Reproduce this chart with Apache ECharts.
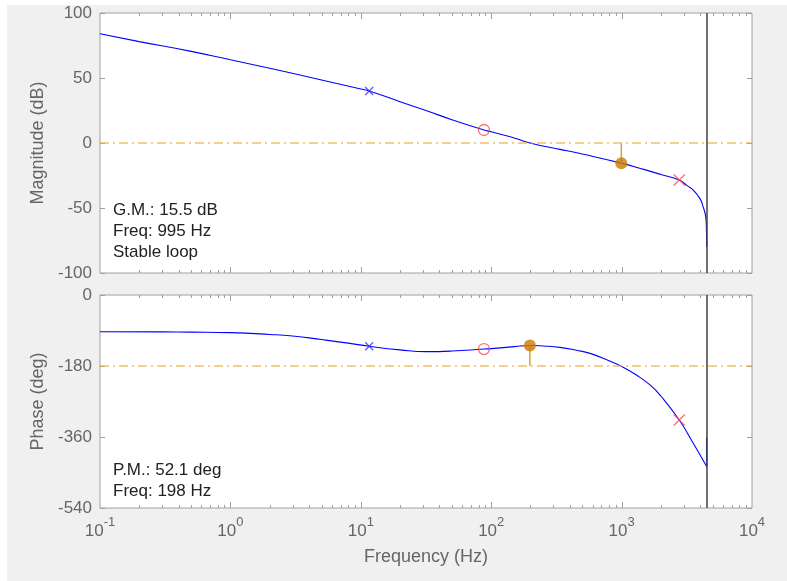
<!DOCTYPE html>
<html>
<head>
<meta charset="utf-8">
<script src="https://cdn.jsdelivr.net/npm/echarts@6/dist/echarts.min.js"></script>
<style>
  html, body { margin: 0; padding: 0; background: #ffffff; }
  #panel { position: absolute; left: 7px; top: 5px; width: 780px; height: 576px; background: #f0f0f0; }
  #chart { position: absolute; left: 0; top: 0; width: 787px; height: 581px; }
</style>
</head>
<body>
<div id="panel"></div>
<div id="chart"></div>
<script>
// Open-loop Bode response (magnitude and phase) with margin annotations
const magFreq = [0.1, 0.2, 0.5, 1, 2, 5, 10, 11.6, 20, 32, 50, 88, 100, 140, 198, 260, 337, 500, 995, 1500, 2000, 2767, 3200, 3545, 4000, 4200, 4415, 4470, 4490];
const magDb   = [84, 78, 70.5, 64, 57.5, 48.5, 41.5, 40, 31.8, 24.8, 17.9, 10, 8.6, 4.8, 0, -2.7, -4.9, -8.5, -15.5, -20.5, -24.2, -28.5, -33, -36.2, -43, -48.5, -56.7, -65, -80];

const phaseFreq = [0.1, 0.3, 0.5, 1, 2, 3, 5, 8, 11.6, 20, 32, 50, 88, 100, 150, 198, 250, 337, 450, 573, 800, 1000, 1300, 1652, 2000, 2767, 3545, 4490];
const phaseDeg  = [-93, -93.5, -94, -95.5, -100, -104, -113, -122, -130, -139, -143.5, -142, -137, -136, -131, -128, -129.3, -132.7, -140, -148, -166.5, -181, -203, -228, -256, -317, -376, -435];
const phaseWrapDeg = -361;   // phase value after the wrap at the Nyquist edge

// Compensator pole/zero markers
const integratorFreq = 11.6, integratorMag = 40, integratorPhase = -130;
const zeroFreq = 88,  zeroMag = 10,  zeroPhase = -137;
const poleFreq = 2767, poleMag = -28.5, polePhase = -317;

// Stability margins
const GM_DB = 15.5, GM_FREQ = 995;
const PM_DEG = 52.1, PM_FREQ = 198;
const NYQUIST_HZ = 4500;

// Axis ticks
const magTicks = [-100, -50, 0, 50, 100];
const phaseTicks = [-540, -360, -180, 0];
const freqDecades = [0.1, 1, 10, 100, 1000, 10000];
const minorSteps = [2, 3, 4, 5, 6, 7, 8, 9];

const FONT = '"Liberation Sans", Arial, Helvetica, sans-serif';
const AXIS_GREY = '#a0a0a0';
const LABEL_GREY = '#666666';
const BLUE = '#0000ff';
const RED = '#ff4a4a';
const MARGIN_LINE = 'rgba(236,170,60,0.75)';
const MARGIN_DOT = '#cc7a00';
const MARGIN_STEM = '#dfa040';

const pair = (xs, ys) => xs.map((x, i) => [x, ys[i]]);

// frequency tick positions (major decades + minor 2..9 multiples)
const freqTickData = [];
freqDecades.slice(1, -1).forEach(d => freqTickData.push([d, 1]));
freqDecades.slice(0, -1).forEach(d => minorSteps.forEach(m => freqTickData.push([d * m, 0])));

function tickRender(params, api) {
  const cs = params.coordSys;
  const p = api.coord([api.value(0), 0]);
  const x = Math.round(p[0]) + 0.5;
  const len = api.value(1) ? 6 : 3;
  const bottom = cs.y + cs.height, top = cs.y;
  const style = { stroke: AXIS_GREY, lineWidth: 1 };
  return {
    type: 'group',
    children: [
      { type: 'line', shape: { x1: x, y1: bottom, x2: x, y2: bottom - len }, style },
      { type: 'line', shape: { x1: x, y1: top, x2: x, y2: top + len }, style }
    ]
  };
}

const xSymbol = 'path://M0,0L10,10M10,0L0,10';

function freqAxis(gridIndex, withLabels) {
  return {
    type: 'log', logBase: 10, gridIndex,
    min: freqDecades[0], max: freqDecades[freqDecades.length - 1],
    axisLine: { show: false },
    axisTick: { show: false },
    splitLine: { show: false },
    axisLabel: withLabels ? {
      show: true, margin: 8,
      formatter: v => '{b|10}{s|' + Math.round(Math.log10(v)) + '}',
      rich: {
        b: { fontSize: 17, fontFamily: FONT, color: LABEL_GREY, lineHeight: 30 },
        s: { fontSize: 13, fontFamily: FONT, color: LABEL_GREY, lineHeight: 12, verticalAlign: 'top' }
      }
    } : { show: false },
    name: withLabels ? 'Frequency (Hz)' : '',
    nameLocation: 'middle', nameGap: 40,
    nameTextStyle: { fontSize: 18, fontFamily: FONT, color: LABEL_GREY }
  };
}

function valueAxis(gridIndex, ticks, name, right) {
  return {
    type: 'value', gridIndex,
    min: ticks[0], max: ticks[ticks.length - 1], interval: ticks[1] - ticks[0],
    position: right ? 'right' : 'left',
    axisLine: { show: false },
    axisTick: { show: true, inside: true, length: 5, lineStyle: { color: AXIS_GREY } },
    splitLine: { show: false },
    axisLabel: right ? { show: false } : { show: true, margin: 8, fontSize: 17, fontFamily: FONT, color: LABEL_GREY },
    name: right ? '' : name,
    nameLocation: 'middle', nameGap: 50,
    nameTextStyle: { fontSize: 18, fontFamily: FONT, color: LABEL_GREY }
  };
}

function marginLine(value) {
  return {
    silent: true, symbol: 'none', animation: false,
    label: { show: false },
    data: [{ yAxis: value, lineStyle: { color: MARGIN_LINE, width: 1.5, type: [9, 4, 2, 4] } },
           { xAxis: NYQUIST_HZ, lineStyle: { color: '#404040', width: 1.5, type: 'solid' } }]
  };
}

function markers(xi, yi, pts) {
  return [
    { type: 'scatter', xAxisIndex: xi, yAxisIndex: yi, symbol: xSymbol, symbolSize: 8, z: 5,
      itemStyle: { color: 'none', borderColor: '#3030ff', borderWidth: 1.2 }, data: [pts.integrator] },
    { type: 'scatter', xAxisIndex: xi, yAxisIndex: yi, symbol: 'circle', symbolSize: 11, z: 5,
      itemStyle: { color: 'rgba(0,0,0,0)', borderColor: RED, borderWidth: 1.3 }, data: [pts.zero] },
    { type: 'scatter', xAxisIndex: xi, yAxisIndex: yi, symbol: xSymbol, symbolSize: 11, z: 5,
      itemStyle: { color: 'none', borderColor: RED, borderWidth: 1.3 }, data: [pts.pole] }
  ];
}

const chart = echarts.init(document.getElementById('chart'), null, { renderer: 'canvas' });

const txt = (x, y, s) => ({
  type: 'text', x, y, z: 50,
  style: { text: s, font: '17px ' + FONT, fill: '#222222', verticalAlign: 'middle', align: 'left' }
});

chart.setOption({
  animation: false,
  backgroundColor: 'transparent',
  grid: [
    { left: 100, top: 13, width: 652, height: 260, show: true, backgroundColor: '#ffffff', borderColor: AXIS_GREY, borderWidth: 1 },
    { left: 100, top: 295, width: 652, height: 213, show: true, backgroundColor: '#ffffff', borderColor: AXIS_GREY, borderWidth: 1 }
  ],
  xAxis: [freqAxis(0, false), freqAxis(1, true)],
  yAxis: [
    valueAxis(0, magTicks, 'Magnitude (dB)', false),
    valueAxis(1, phaseTicks, 'Phase (deg)', false),
    valueAxis(0, magTicks, '', true),
    valueAxis(1, phaseTicks, '', true)
  ],
  graphic: [
    txt(113, 210, 'G.M.: ' + GM_DB + ' dB'),
    txt(113, 231, 'Freq: ' + GM_FREQ + ' Hz'),
    txt(113, 252, 'Stable loop'),
    txt(113, 470, 'P.M.: ' + PM_DEG + ' deg'),
    txt(113, 491, 'Freq: ' + PM_FREQ + ' Hz')
  ],
  series: [
    { type: 'custom', xAxisIndex: 0, yAxisIndex: 0, renderItem: tickRender, data: freqTickData, silent: true, z: 1 },
    { type: 'custom', xAxisIndex: 1, yAxisIndex: 1, renderItem: tickRender, data: freqTickData, silent: true, z: 1 },

    // magnitude
    { type: 'line', xAxisIndex: 0, yAxisIndex: 0, data: pair(magFreq, magDb), smooth: 0.5,
      showSymbol: false, lineStyle: { color: BLUE, width: 1.1 }, z: 3, markLine: marginLine(0) },
    { type: 'line', xAxisIndex: 0, yAxisIndex: 0, data: [[GM_FREQ, 0], [GM_FREQ, -GM_DB]],
      showSymbol: false, lineStyle: { color: MARGIN_STEM, width: 1.5 }, z: 4 },
    { type: 'scatter', xAxisIndex: 0, yAxisIndex: 0, data: [[GM_FREQ, -GM_DB]], symbolSize: 12,
      itemStyle: { color: MARGIN_DOT }, z: 6 },
    ...markers(0, 0, { integrator: [integratorFreq, integratorMag], zero: [zeroFreq, zeroMag], pole: [poleFreq, poleMag] }),

    // phase
    { type: 'line', xAxisIndex: 1, yAxisIndex: 1, data: pair(phaseFreq, phaseDeg), smooth: 0.5,
      showSymbol: false, lineStyle: { color: BLUE, width: 1.1 }, z: 3, markLine: marginLine(-180) },
    { type: 'line', xAxisIndex: 1, yAxisIndex: 1,
      data: [[phaseFreq[phaseFreq.length - 1], phaseDeg[phaseDeg.length - 1]], [phaseFreq[phaseFreq.length - 1], phaseWrapDeg]],
      showSymbol: false, lineStyle: { color: BLUE, width: 1.1 }, z: 3 },
    { type: 'line', xAxisIndex: 1, yAxisIndex: 1, data: [[PM_FREQ, -180], [PM_FREQ, -180 + PM_DEG]],
      showSymbol: false, lineStyle: { color: MARGIN_STEM, width: 1.5 }, z: 4 },
    { type: 'scatter', xAxisIndex: 1, yAxisIndex: 1, data: [[PM_FREQ, -180 + PM_DEG]], symbolSize: 12,
      itemStyle: { color: MARGIN_DOT }, z: 6 },
    ...markers(1, 1, { integrator: [integratorFreq, integratorPhase], zero: [zeroFreq, zeroPhase], pole: [poleFreq, polePhase] })
  ]
});
</script>
</body>
</html>
